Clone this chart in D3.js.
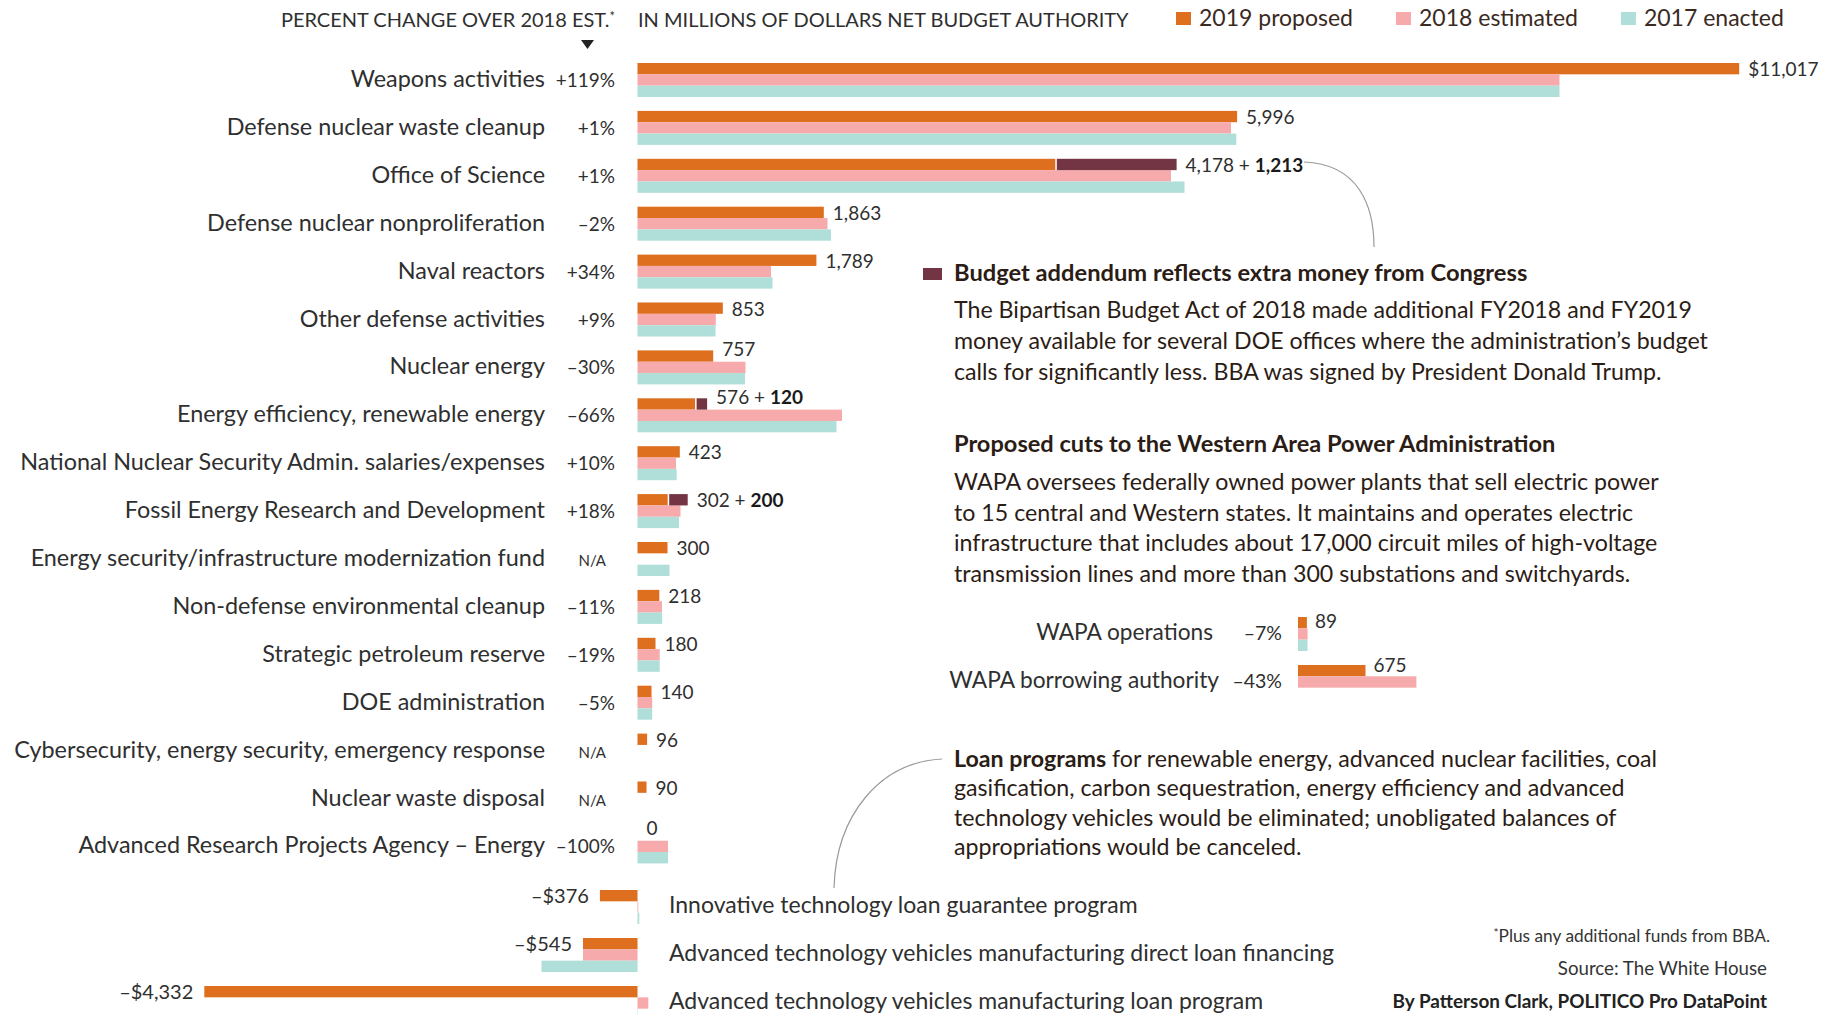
<!DOCTYPE html>
<html><head><meta charset="utf-8">
<script src="https://cdn.jsdelivr.net/npm/d3@7"></script>
<style>
body{margin:0;background:#fff;}
svg{display:block;font-family:Lato,"Open Sans",sans-serif;}
</style></head><body>
<svg id="chart" width="1833" height="1014"></svg>
<script>
// ---------- DATA ----------
const categories = ["Weapons activities","Defense nuclear waste cleanup","Office of Science","Defense nuclear nonproliferation","Naval reactors","Other defense activities","Nuclear energy","Energy efficiency, renewable energy","National Nuclear Security Admin. salaries/expenses","Fossil Energy Research and Development","Energy security/infrastructure modernization fund","Non-defense environmental cleanup","Strategic petroleum reserve","DOE administration","Cybersecurity, energy security, emergency response","Nuclear waste disposal","Advanced Research Projects Agency – Energy"];
const pctChange = ["+119%","+1%","+1%","–2%","+34%","+9%","–30%","–66%","+10%","+18%","N/A","–11%","–19%","–5%","N/A","N/A","–100%"];
const proposed2019 = [11017,5996,4178,1863,1789,853,757,576,423,302,300,218,180,140,96,90,0];
const bba2019 = [0,0,1213,0,0,0,0,120,0,200,0,0,0,0,0,0,0];
const estimated2018 = [9220,5935,5335,1900,1335,783,1080,2045,385,430,0,245,222,147,0,0,305];
const enacted2017 = [9220,5988,5470,1935,1350,780,1075,1990,392,415,320,247,222,147,0,0,305];

const loanCategories = ["Innovative technology loan guarantee program","Advanced technology vehicles manufacturing direct loan financing","Advanced technology vehicles manufacturing loan program"];
const loan2019 = [-376,-545,-4332];
const loan2018 = [8,-545,108];
const loan2017 = [18,-960,4];

const wapaCategories = ["WAPA operations","WAPA borrowing authority"];
const wapaPct = ["–7%","–43%"];
const wapa2019 = [89,675];
const wapa2018 = [96,1184];
const wapa2017 = [95,0];

const seriesNames = ["2019 proposed","2018 estimated","2017 enacted"];
const seriesColors = ["#dd6f1e","#f7aaac","#b0ded8"];
const bbaColor = "#733443";

// ---------- SETUP ----------
const svg = d3.select("#chart");
const fmt = d3.format(",");
const TXT = "#2f2f2f", BROWN = "#2b1c15";

const x = d3.scaleLinear().domain([0, 10000]).range([637.5, 1637.5]);
const rowTop = d3.scaleLinear().domain([0, 1]).range([63, 63 + 47.9]);
const inner = d3.scaleBand().domain([0,1,2]).range([0, 34]);
const color = d3.scaleOrdinal().domain([0,1,2]).range(seriesColors);

// ---------- HEADER ----------
const hdr = svg.append("text").attr("x", 615).attr("y", 27).attr("text-anchor","end")
  .attr("font-size", 20).attr("fill", TXT);
hdr.append("tspan").text("PERCENT CHANGE OVER 2018 EST.");
hdr.append("tspan").text("*").attr("font-size", 13).attr("dy", -6);
svg.append("path").attr("d", "M581,40 L594,40 L587.5,49 Z").attr("fill", "#222");
svg.append("text").attr("x", 638).attr("y", 27).attr("font-size", 20).attr("fill", TXT)
  .text("IN MILLIONS OF DOLLARS NET BUDGET AUTHORITY");

// legend
let lx = 1176;
seriesNames.forEach((name, i) => {
  svg.append("rect").attr("x", lx).attr("y", 12).attr("width", 15).attr("height", 13).attr("fill", color(i));
  const t = svg.append("text").attr("x", lx + 23).attr("y", 26).attr("font-size", 23).attr("fill", "#3a2a22").text(name);
  lx += 23 + t.node().getComputedTextLength() + 43;
});

// ---------- MAIN BARS ----------
const rows = categories.map((c, i) => ({
  c, i, pct: pctChange[i],
  vals: [proposed2019[i], estimated2018[i], enacted2017[i]], bba: bba2019[i]
}));

const g = svg.append("g");
rows.forEach(r => {
  const top = rowTop(r.i);
  r.vals.forEach((v, k) => {
    if (v === 0) return;
    g.append("rect")
      .attr("x", x(Math.min(0, v))).attr("y", top + inner(k))
      .attr("width", Math.abs(x(v) - x(0))).attr("height", inner.bandwidth())
      .attr("fill", color(k));
  });
  let end = x(r.vals[0]);
  if (r.bba > 0) {
    g.append("rect").attr("x", x(r.vals[0]) + 1.5).attr("y", top + inner(0))
      .attr("width", x(r.vals[0] + r.bba) - x(r.vals[0]) - 1.5).attr("height", inner.bandwidth())
      .attr("fill", bbaColor);
    end = x(r.vals[0] + r.bba);
  }
  g.append("text").attr("x", 545).attr("y", top + 24).attr("text-anchor", "end")
    .attr("font-size", 23.4).attr("fill", TXT).text(r.c);
  const na = r.pct === "N/A";
  g.append("text").attr("x", na ? 606 : 615).attr("y", top + 24).attr("text-anchor", "end")
    .attr("font-size", na ? 15 : 19).attr("fill", TXT).text(r.pct);
  const lxv = end + 9;
  const otherEnd = x(Math.max(r.vals[1], r.vals[2]));
  const raised = otherEnd > lxv + 2;
  const vt = g.append("text").attr("x", lxv).attr("y", top + (raised ? 6 : 13))
    .attr("font-size", 19).attr("fill", TXT);
  vt.append("tspan").text((r.i === 0 ? "$" : "") + fmt(r.vals[0]));
  if (r.bba > 0) {
    vt.append("tspan").text(" + ");
    vt.append("tspan").attr("font-weight", "bold").attr("fill", "#1a1a1a").text(fmt(r.bba));
  }
});

// ---------- LOAN BARS ----------
const loanTop = d3.scaleLinear().domain([0, 1]).range([890, 938]);
loanCategories.forEach((c, i) => {
  const top = loanTop(i);
  [loan2019[i], loan2018[i], loan2017[i]].forEach((v, k) => {
    if (v === 0) return;
    svg.append("rect").attr("x", x(Math.min(0, v))).attr("y", top + inner(k))
      .attr("width", Math.abs(x(v) - x(0))).attr("height", inner.bandwidth())
      .attr("fill", color(k));
  });
  svg.append("text").attr("x", x(loan2019[i]) - 11).attr("y", top + 13).attr("text-anchor", "end")
    .attr("font-size", 20).attr("fill", TXT).text("–$" + fmt(Math.abs(loan2019[i])));
  svg.append("text").attr("x", 669).attr("y", top + 23).attr("font-size", 23).attr("fill", TXT).text(c);
});

// ---------- WAPA BARS ----------
const xw = d3.scaleLinear().domain([0, 10000]).range([1298, 2298]);
const wapaTop = d3.scaleLinear().domain([0, 1]).range([617, 665]);
wapaCategories.forEach((c, i) => {
  const top = wapaTop(i);
  const vals = [wapa2019[i], wapa2018[i], wapa2017[i]];
  vals.forEach((v, k) => {
    if (v === 0) return;
    svg.append("rect").attr("x", xw(0)).attr("y", top + inner(k))
      .attr("width", xw(v) - xw(0)).attr("height", inner.bandwidth()).attr("fill", color(k));
  });
  svg.append("text").attr("x", i === 0 ? 1213 : 1219).attr("y", top + 23).attr("text-anchor", "end")
    .attr("font-size", 22.7).attr("fill", TXT).text(c);
  svg.append("text").attr("x", 1282).attr("y", top + 23).attr("text-anchor", "end")
    .attr("font-size", 19.5).attr("fill", TXT).text(wapaPct[i]);
  const lxv = xw(vals[0]) + 8;
  const raised = xw(Math.max(vals[1], vals[2])) > lxv + 2;
  svg.append("text").attr("x", lxv).attr("y", top + (raised ? 7 : 11))
    .attr("font-size", 19).attr("fill", TXT).text(fmt(vals[0]));
});

// ---------- ANNOTATIONS ----------
svg.append("path").attr("d", "M1304,162 C1358,164 1374,205 1374,247")
  .attr("fill", "none").attr("stroke", "#9a9a9a").attr("stroke-width", 1.2);
svg.append("path").attr("d", "M942,759 C880,762 836,815 834,888")
  .attr("fill", "none").attr("stroke", "#9a9a9a").attr("stroke-width", 1.2);

svg.append("rect").attr("x", 923).attr("y", 268).attr("width", 19).attr("height", 12).attr("fill", bbaColor);

function para(lines, x0, y0, dy, opts = {}) {
  lines.forEach((ln, i) => {
    const t = svg.append("text").attr("x", x0).attr("y", y0 + i * dy)
      .attr("font-size", opts.size || 23.2).attr("fill", BROWN);
    if (Array.isArray(ln)) {
      ln.forEach(seg => t.append("tspan").attr("font-weight", seg.b ? "bold" : null).text(seg.t));
    } else {
      t.attr("font-weight", opts.bold ? "bold" : null).text(ln);
    }
  });
}
para(["Budget addendum reflects extra money from Congress"], 954, 281, 0, {bold: true, size: 23.7});
para(["The Bipartisan Budget Act of 2018 made additional FY2018 and FY2019",
      "money available for several DOE offices where the administration’s budget",
      "calls for significantly less. BBA was signed by President Donald Trump."], 954, 318, 31);
para(["Proposed cuts to the Western Area Power Administration"], 954, 452, 0, {bold: true, size: 23.6});
para(["WAPA oversees federally owned power plants that sell electric power",
      "to 15 central and Western states. It maintains and operates electric",
      "infrastructure that includes about 17,000 circuit miles of high-voltage",
      "transmission lines and more than 300 substations and switchyards."], 954, 490, 30.7);
para([[{t: "Loan programs", b: true}, {t: " for renewable energy, advanced nuclear facilities, coal"}],
      "gasification, carbon sequestration, energy efficiency and advanced",
      "technology vehicles would be eliminated; unobligated balances of",
      "appropriations would be canceled."], 954, 767, 29.3);

// ---------- FOOTER ----------
const fn = svg.append("text").attr("x", 1770).attr("y", 942).attr("text-anchor", "end").attr("font-size", 17.3).attr("fill", "#333");
fn.append("tspan").text("*").attr("font-size", 12).attr("dy", -5);
fn.append("tspan").text("Plus any additional funds from BBA.").attr("dy", 5);
svg.append("text").attr("x", 1767).attr("y", 975).attr("text-anchor", "end").attr("font-size", 18.7).attr("fill", "#333").text("Source: The White House");
svg.append("text").attr("x", 1767).attr("y", 1008).attr("text-anchor", "end").attr("font-size", 18.9).attr("font-weight", "bold").attr("fill", "#222").text("By Patterson Clark, POLITICO Pro DataPoint");
</script>
</body></html>
